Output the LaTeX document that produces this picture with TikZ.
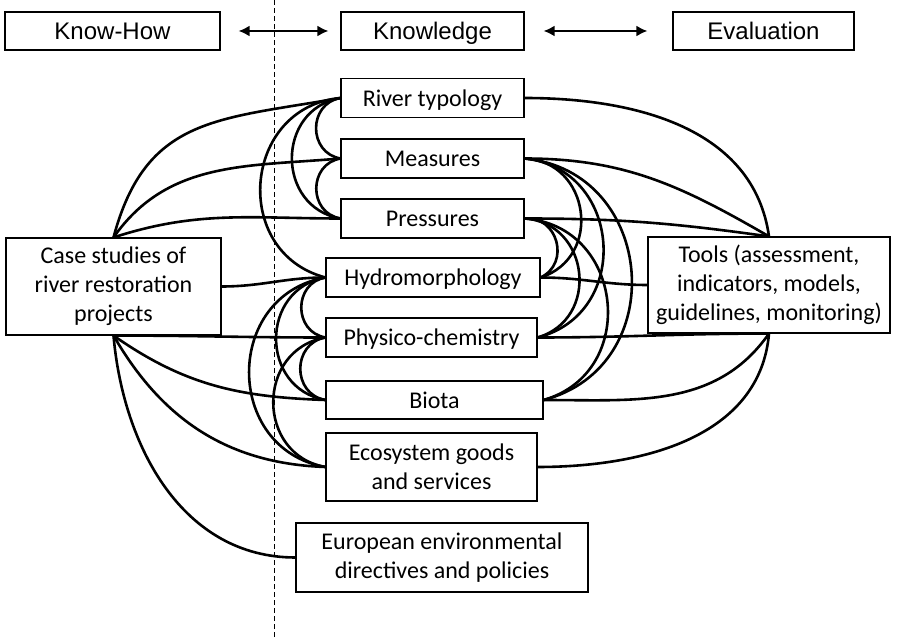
\documentclass[tikz,border=0pt]{standalone}
\usepackage{fontspec}
\usetikzlibrary{arrows.meta}
\setmainfont{Carlito}
\newfontfamily\headfont{Liberation Sans}
\begin{document}
\begin{tikzpicture}[x=1pt, y=1pt,
  box/.style={draw, fill=white, line width=1.1pt, inner sep=0pt, align=center, font=\fontsize{24}{29}\selectfont},
  one/.style={box, minimum height=39, text height=18, text depth=1},
  head/.style={one, minimum height=38, font=\headfont\fontsize{24}{29}\selectfont},
  link/.style={line width=2.6pt},
  lbend/.style={link, bend right=80, looseness=1.4},
  rbend/.style={link, bend left=80, looseness=1.4}]
\useasboundingbox (0,0) rectangle (899,637);
\draw[line width=0.8pt, dash pattern=on 5pt off 3pt] (274,0) -- (274,637);

\node[head, minimum width=215] (knowhow) at (112.5,606) {Know-How};
\node[head, minimum width=183] (knowledge) at (432.5,606) {Knowledge};
\node[head, minimum width=181] (evaluation) at (763.5,606) {Evaluation};
\draw[line width=2.4pt, {Latex[length=11pt,width=11pt]}-{Latex[length=11pt,width=11pt]}, shorten <=18, shorten >=12] (knowhow) -- (knowledge);
\draw[line width=2.4pt, {Latex[length=11pt,width=11pt]}-{Latex[length=11pt,width=11pt]}, shorten <=19, shorten >=25] (knowledge) -- (evaluation);

% knowledge column
\node[one, minimum width=183] (typology) at (432.5,539) {River typology};
\node[one, minimum width=183] (measures) at (432.5,478.5) {Measures};
\node[one, minimum width=183] (pressures) at (432.5,418.5) {Pressures};
\node[one, minimum width=214] (hydro) at (433,359.5) {Hydromorphology};
\node[one, minimum width=211] (physico) at (431.5,299.5) {Physico-chemistry};
\node[one, minimum width=217, minimum height=38] (biota) at (434.5,237) {Biota};
\node[box, minimum width=211, minimum height=68] (ecosystem) at (431.5,170) {Ecosystem goods\\and services};
\node[box, minimum width=292, minimum height=69] (european) at (442,79.5) {European environmental\\directives and policies};

\node[box, minimum width=215, minimum height=97] (cases) at (113.5,350.5) {Case studies of\\river restoration\\projects};
\node[box, minimum width=242, minimum height=96] (tools) at (769,352) {Tools (assessment,\\indicators, models,\\guidelines, monitoring)};

% know-how side
\draw[link] (cases.north) to[out=75, in=190, looseness=1.2] (typology.west);
\draw[link] (cases.north) to[out=55, in=185] (measures.west);
\draw[link] (cases.north) to[out=18, in=180] (pressures.west);
\draw[link] (cases.east) to[out=0, in=180] (hydro.west);
\draw[link] (cases.south) to[out=0, in=180] (physico.west);
\draw[link] (cases.south) to[out=-35, in=178] (biota.west);
\draw[link] (cases.south) to[out=-60, in=178] (ecosystem.west);
\draw[link] (cases.south) to[out=-85, in=180] (european.west);

% evaluation side
\draw[link] (typology.east) to[out=0, in=98] (tools.north);
\draw[link] (measures.east) to[out=0, in=150] (tools.north);
\draw[link] (pressures.east) to[out=0, in=172] (tools.north);
\draw[link] (hydro.east) to[out=0, in=180] (tools.west);
\draw[link] (physico.east) to[out=0, in=180] (tools.south);
\draw[link] (biota.east) to[out=0, in=-125] (tools.south);
\draw[link] (ecosystem.east) to[out=0, in=-95] (tools.south);

% links inside the knowledge column
\foreach \a/\b in {typology/measures, measures/pressures, typology/pressures, typology/hydro,
                   hydro/physico, physico/biota, hydro/biota, hydro/ecosystem, physico/ecosystem}
  \draw[lbend] (\a.west) to (\b.west);
\foreach \a/\b in {measures/hydro, measures/physico, measures/biota,
                   pressures/hydro, pressures/physico, pressures/biota}
  \draw[rbend] (\a.east) to (\b.east);
\end{tikzpicture}
\end{document}
